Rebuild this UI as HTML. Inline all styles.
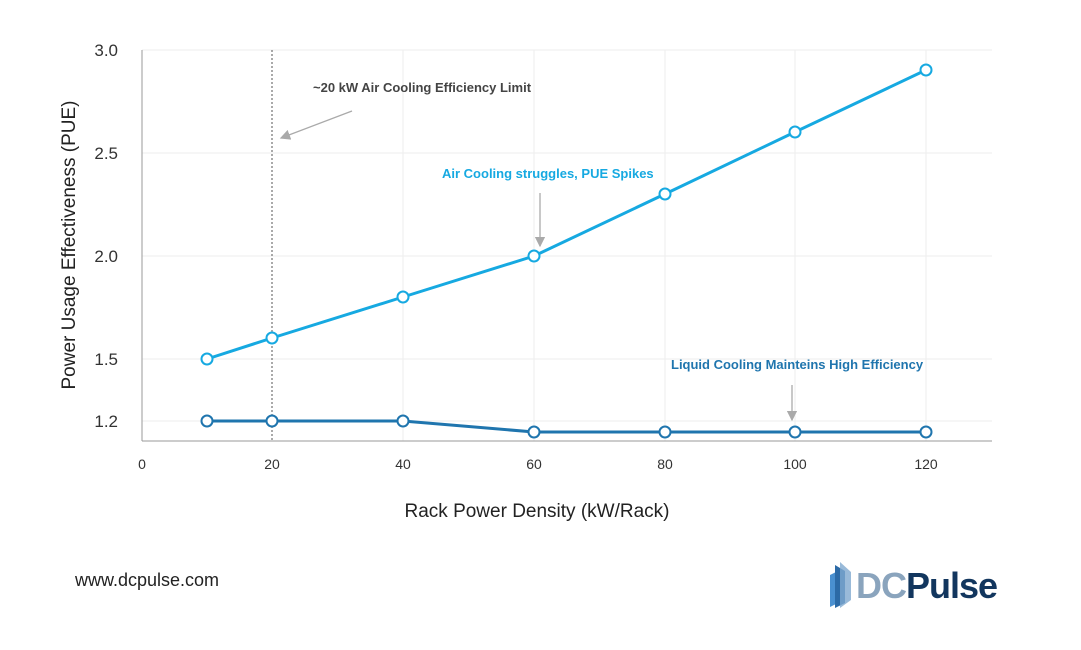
<!DOCTYPE html>
<html><head><meta charset="utf-8"><style>
body{margin:0;background:#fff;width:1081px;height:645px;overflow:hidden;font-family:"Liberation Sans",sans-serif}
</style></head><body>
<svg width="1081" height="645" xmlns="http://www.w3.org/2000/svg" font-family="Liberation Sans, sans-serif">
<defs><marker id="ah" markerWidth="8" markerHeight="8" refX="7" refY="4" orient="auto"><path d="M0,0 L8,4 L0,8 z" fill="#aaa"/></marker></defs>
<g stroke="#eee" stroke-width="1">
<line x1="142" y1="50" x2="992" y2="50"/><line x1="142" y1="153" x2="992" y2="153"/><line x1="142" y1="256" x2="992" y2="256"/><line x1="142" y1="359" x2="992" y2="359"/><line x1="142" y1="421" x2="992" y2="421"/>
<line x1="403" y1="50" x2="403" y2="441"/><line x1="534" y1="50" x2="534" y2="441"/><line x1="665" y1="50" x2="665" y2="441"/><line x1="795" y1="50" x2="795" y2="441"/><line x1="926" y1="50" x2="926" y2="441"/>
</g>
<line x1="142" y1="50" x2="142" y2="441" stroke="#999"/>
<line x1="142" y1="441" x2="992" y2="441" stroke="#999"/>
<line x1="272" y1="50" x2="272" y2="441" stroke="#555" stroke-dasharray="2,2"/>
<g font-size="17" fill="#333" text-anchor="end">
<text x="118" y="56">3.0</text><text x="118" y="159">2.5</text><text x="118" y="262">2.0</text><text x="118" y="365">1.5</text><text x="118" y="427">1.2</text></g>
<g font-size="14" fill="#333" text-anchor="middle">
<text x="142" y="469">0</text><text x="272" y="469">20</text><text x="403" y="469">40</text><text x="534" y="469">60</text><text x="665" y="469">80</text><text x="795" y="469">100</text><text x="926" y="469">120</text></g>
<text x="537" y="517" font-size="19" fill="#222" text-anchor="middle">Rack Power Density (kW/Rack)</text>
<text transform="translate(75,245) rotate(-90)" font-size="19" fill="#222" text-anchor="middle">Power Usage Effectiveness (PUE)</text>
<polyline points="207,359 272,338 403,297 534,256 665,194 795,132 926,70" fill="none" stroke="#16a9e1" stroke-width="3"/>
<polyline points="207,421 272,421 403,421 534,432 665,432 795,432 926,432" fill="none" stroke="#1f75ae" stroke-width="3"/>
<g fill="#fff" stroke="#16a9e1" stroke-width="2">
<circle cx="207" cy="359" r="5.5"/><circle cx="272" cy="338" r="5.5"/><circle cx="403" cy="297" r="5.5"/><circle cx="534" cy="256" r="5.5"/><circle cx="665" cy="194" r="5.5"/><circle cx="795" cy="132" r="5.5"/><circle cx="926" cy="70" r="5.5"/></g>
<g fill="#fff" stroke="#1f75ae" stroke-width="2">
<circle cx="207" cy="421" r="5.5"/><circle cx="272" cy="421" r="5.5"/><circle cx="403" cy="421" r="5.5"/><circle cx="534" cy="432" r="5.5"/><circle cx="665" cy="432" r="5.5"/><circle cx="795" cy="432" r="5.5"/><circle cx="926" cy="432" r="5.5"/></g>
<text x="313" y="92" font-size="13" font-weight="bold" fill="#444">~20 kW Air Cooling Efficiency Limit</text>
<line x1="352" y1="111" x2="281" y2="138" stroke="#aaa" stroke-width="1.3" marker-end="url(#ah)"/>
<text x="442" y="178" font-size="13" font-weight="bold" fill="#16a9e1">Air Cooling struggles, PUE Spikes</text>
<line x1="540" y1="193" x2="540" y2="246" stroke="#aaa" stroke-width="1.3" marker-end="url(#ah)"/>
<text x="671" y="369" font-size="13" font-weight="bold" fill="#1f75ae">Liquid Cooling Mainteins High Efficiency</text>
<line x1="792" y1="385" x2="792" y2="420" stroke="#aaa" stroke-width="1.3" marker-end="url(#ah)"/>
<text x="75" y="586" font-size="18" fill="#222">www.dcpulse.com</text>
<g>
<polygon points="830,575 838,571 838,603 830,607" fill="#4a90d0"/>
<polygon points="835,565 845,571 845,603 835,608" fill="#2c6aa6"/>
<polygon points="840,562 851,572 851,600 840,608" fill="#7fa9cf" opacity="0.8"/>
<text x="856" y="598" font-size="36" font-weight="bold" fill="#8aa4bd" letter-spacing="-1">DC</text>
<text x="906" y="598" font-size="36" font-weight="bold" fill="#12365e" letter-spacing="-1">Pulse</text>
</g>
</svg>
</body></html>
